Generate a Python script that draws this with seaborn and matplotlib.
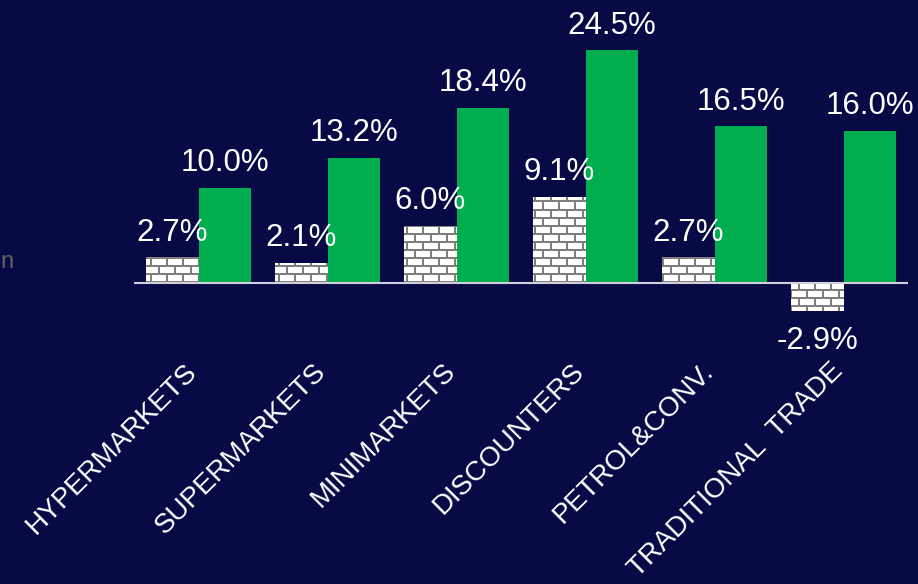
import numpy as np
import pandas as pd
import matplotlib
matplotlib.use("Agg")
import matplotlib.pyplot as plt
import seaborn as sns

# Channel growth figures (%)
categories = ["HYPERMARKETS", "SUPERMARKETS", "MINIMARKETS", "DISCOUNTERS",
              "PETROL&CONV.", "TRADITIONAL  TRADE"]
series_names = ["Period 1", "Period 2"]
growth_period1 = [2.7, 2.1, 6.0, 9.1, 2.7, -2.9]
growth_period2 = [10.0, 13.2, 18.4, 24.5, 16.5, 16.0]

BG = "#070A45"
GREEN = "#00AD4F"
MORTAR = (0.50, 0.50, 0.50)

df = pd.DataFrame({
    "channel": categories * 2,
    "period": [series_names[0]] * len(categories) + [series_names[1]] * len(categories),
    "growth": growth_period1 + growth_period2,
})

sns.set_theme(style="white")
plt.rcParams["font.family"] = ["Liberation Sans", "DejaVu Sans"]

FW, FH, DPI = 9.18, 5.84, 100
fig = plt.figure(figsize=(FW, FH), dpi=DPI, facecolor=BG)
ax = fig.add_axes([134 / 918, (584 - 321) / 584, 774 / 918, 304 / 584])
ax.set_facecolor(BG)

sns.barplot(data=df, x="channel", y="growth", hue="period", order=categories,
            hue_order=series_names, palette=["white", GREEN], saturation=1,
            width=0.82, gap=0, errorbar=None, legend=False, linewidth=0,
            ax=ax, zorder=2)

XLIM, YLIM = (-0.5, 5.5), (-4, 28)
ax.set_xlim(*XLIM)
ax.set_ylim(*YLIM)

# brick texture, built in screen pixels and clipped to the first series' bars
W = int(round(FW * DPI * 774 / 918))
H = int(round(FH * DPI * 304 / 584))
tex = np.ones((H, W, 3))
yy, xx = np.mgrid[0:H, 0:W]
row = yy // 8
horiz = (yy % 8) < 2
vert = ((xx + (row % 2) * 8) % 16) < 2
tex[horiz | vert] = MORTAR

for patch in ax.containers[0].patches:
    im = ax.imshow(tex, extent=(XLIM[0], XLIM[1], YLIM[0], YLIM[1]), aspect="auto",
                   interpolation="nearest", origin="upper", zorder=2.5)
    im.set_clip_path(patch)
ax.set_xlim(*XLIM)
ax.set_ylim(*YLIM)

ax.axhline(0, color="#D0D0DC", lw=1.5, zorder=3)

# value labels
for container, values in zip(ax.containers, [growth_period1, growth_period2]):
    for patch, v in zip(container.patches, values):
        xc = patch.get_x() + patch.get_width() / 2
        if v >= 0:
            ax.annotate(f"{v:.1f}%", xy=(xc, v), xytext=(0, 7), textcoords="offset points",
                        ha="center", va="bottom", color="white", fontsize=22.5,
                        annotation_clip=False, zorder=4)
        else:
            ax.annotate(f"{v:.1f}%", xy=(xc, v), xytext=(0, -11), textcoords="offset points",
                        ha="center", va="top", color="white", fontsize=22.5,
                        annotation_clip=False, zorder=4)

ax.set_xticks(range(len(categories)))
ax.set_xticklabels(categories, rotation=45, ha="right", va="baseline",
                   rotation_mode="anchor", fontsize=20, color="white")
ax.tick_params(axis="x", length=0, pad=37)
ax.set_yticks([])
ax.set_xlabel("")
ax.set_ylabel("")
for s in ax.spines.values():
    s.set_visible(False)

fig.text(0.5 / 918, (584 - 268) / 584, "n", ha="left", va="baseline",
         color="#626262", fontsize=17)

fig.savefig("out.png", dpi=DPI, facecolor=BG)
